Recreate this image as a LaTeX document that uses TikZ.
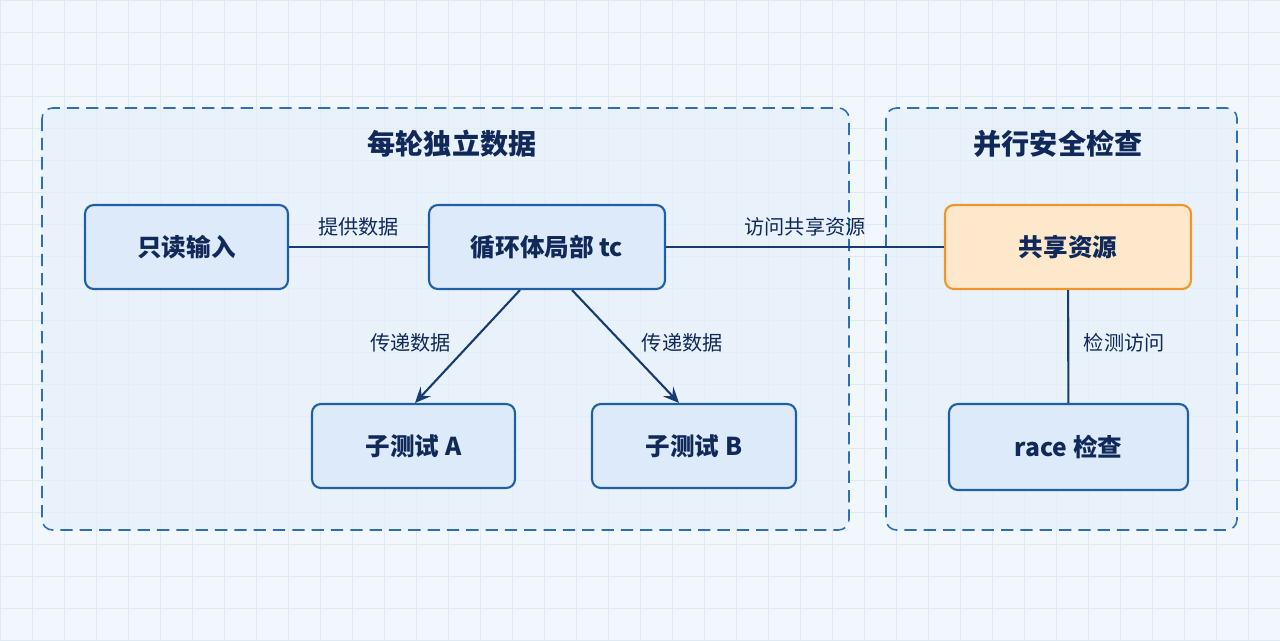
\documentclass[tikz,border=0pt]{standalone}
\usepackage{fontspec}
\setmainfont{Noto Sans CJK SC}
\usetikzlibrary{arrows.meta}
\definecolor{bgc}{HTML}{F1F7FD}
\definecolor{gridc}{HTML}{DDE9F5}
\definecolor{grpfill}{HTML}{E6F0FB}
\definecolor{grpline}{HTML}{2F6DB5}
\definecolor{nodefill}{HTML}{DCEAFA}
\definecolor{nodeline}{HTML}{1F5FA6}
\definecolor{txt}{HTML}{10295A}
\definecolor{edgec}{HTML}{183C72}
\definecolor{orfill}{HTML}{FDE8CC}
\definecolor{orline}{HTML}{F0952B}
\tikzset{
  grp/.style={draw=grpline, fill=grpfill, fill opacity=0.7, dash pattern=on 7pt off 4pt, line width=0.9pt, rounded corners=6pt},
  grptitle/.style={text=txt, font=\fontsize{16}{19}\selectfont\bfseries},
  box/.style={draw=nodeline, fill=nodefill, line width=1.2pt, rounded corners=5pt, text=txt, font=\fontsize{14}{17}\selectfont\bfseries},
  obox/.style={box, draw=orline, fill=orfill},
  lbl/.style={text=txt, font=\fontsize{11.5}{14}\selectfont},
  edge/.style={draw=edgec, line width=1.2pt},
  arr/.style={edge, -{Stealth[length=9pt, width=8pt, inset=3.5pt]}}
}
\begin{document}
\begin{tikzpicture}[x=0.02cm, y=-0.02cm]
\fill[bgc] (0,0) rectangle (1280,640);
\useasboundingbox (0,0) rectangle (1280,640);
\foreach \i in {0,32,...,1280} \draw[gridc, line width=0.4pt] (\i,0) -- (\i,640);
\foreach \j in {0,32,...,640} \draw[gridc, line width=0.4pt] (0,\j) -- (1280,\j);
% groups
\draw[grp] (42,108) rectangle (849,530);
\draw[grp] (886,108) rectangle (1237,530);
\node[grptitle] (t1) at (452,144) {每轮独立数据};
\node[grptitle] (t2) at (1058,144) {并行安全检查};
% nodes
\node[box, minimum width=4.06cm, minimum height=1.68cm] (ro) at (186.5,247) {只读输入};
\node[box, minimum width=4.72cm, minimum height=1.68cm] (tc) at (547,247) {循环体局部 tc};
\node[obox, minimum width=4.92cm, minimum height=1.68cm] (sh) at (1068,247) {共享资源};
\node[box, minimum width=4.06cm, minimum height=1.68cm] (sa) at (413.5,446) {子测试 A};
\node[box, minimum width=4.08cm, minimum height=1.68cm] (sb) at (694,446) {子测试 B};
\node[box, minimum width=4.78cm, minimum height=1.72cm] (rc) at (1068.5,447) {race 检查};
% connector end points
\coordinate (as) at ([xshift=-0.54cm]tc.south);
\coordinate (ae) at ([xshift=0.03cm]sa.north);
\coordinate (bs) at ([xshift=0.5cm]tc.south);
\coordinate (be) at ([xshift=-0.3cm]sb.north);
% edges
\draw[edge] (ro) -- (tc) node[lbl, midway, above=2.5pt] {提供数据};
\draw[edge] (tc) -- (sh) node[lbl, pos=0.5, above=2.5pt] {访问共享资源};
\draw[arr] (as) -- (ae) node[lbl, pos=0.47, xshift=-1.2cm] {传递数据};
\draw[arr] (bs) -- (be) node[lbl, pos=0.47, xshift=1.2cm] {传递数据};
\draw[edge] (sh) -- (rc) node[lbl, pos=0.47, right=5pt] {检测访问};
\end{tikzpicture}
\end{document}
